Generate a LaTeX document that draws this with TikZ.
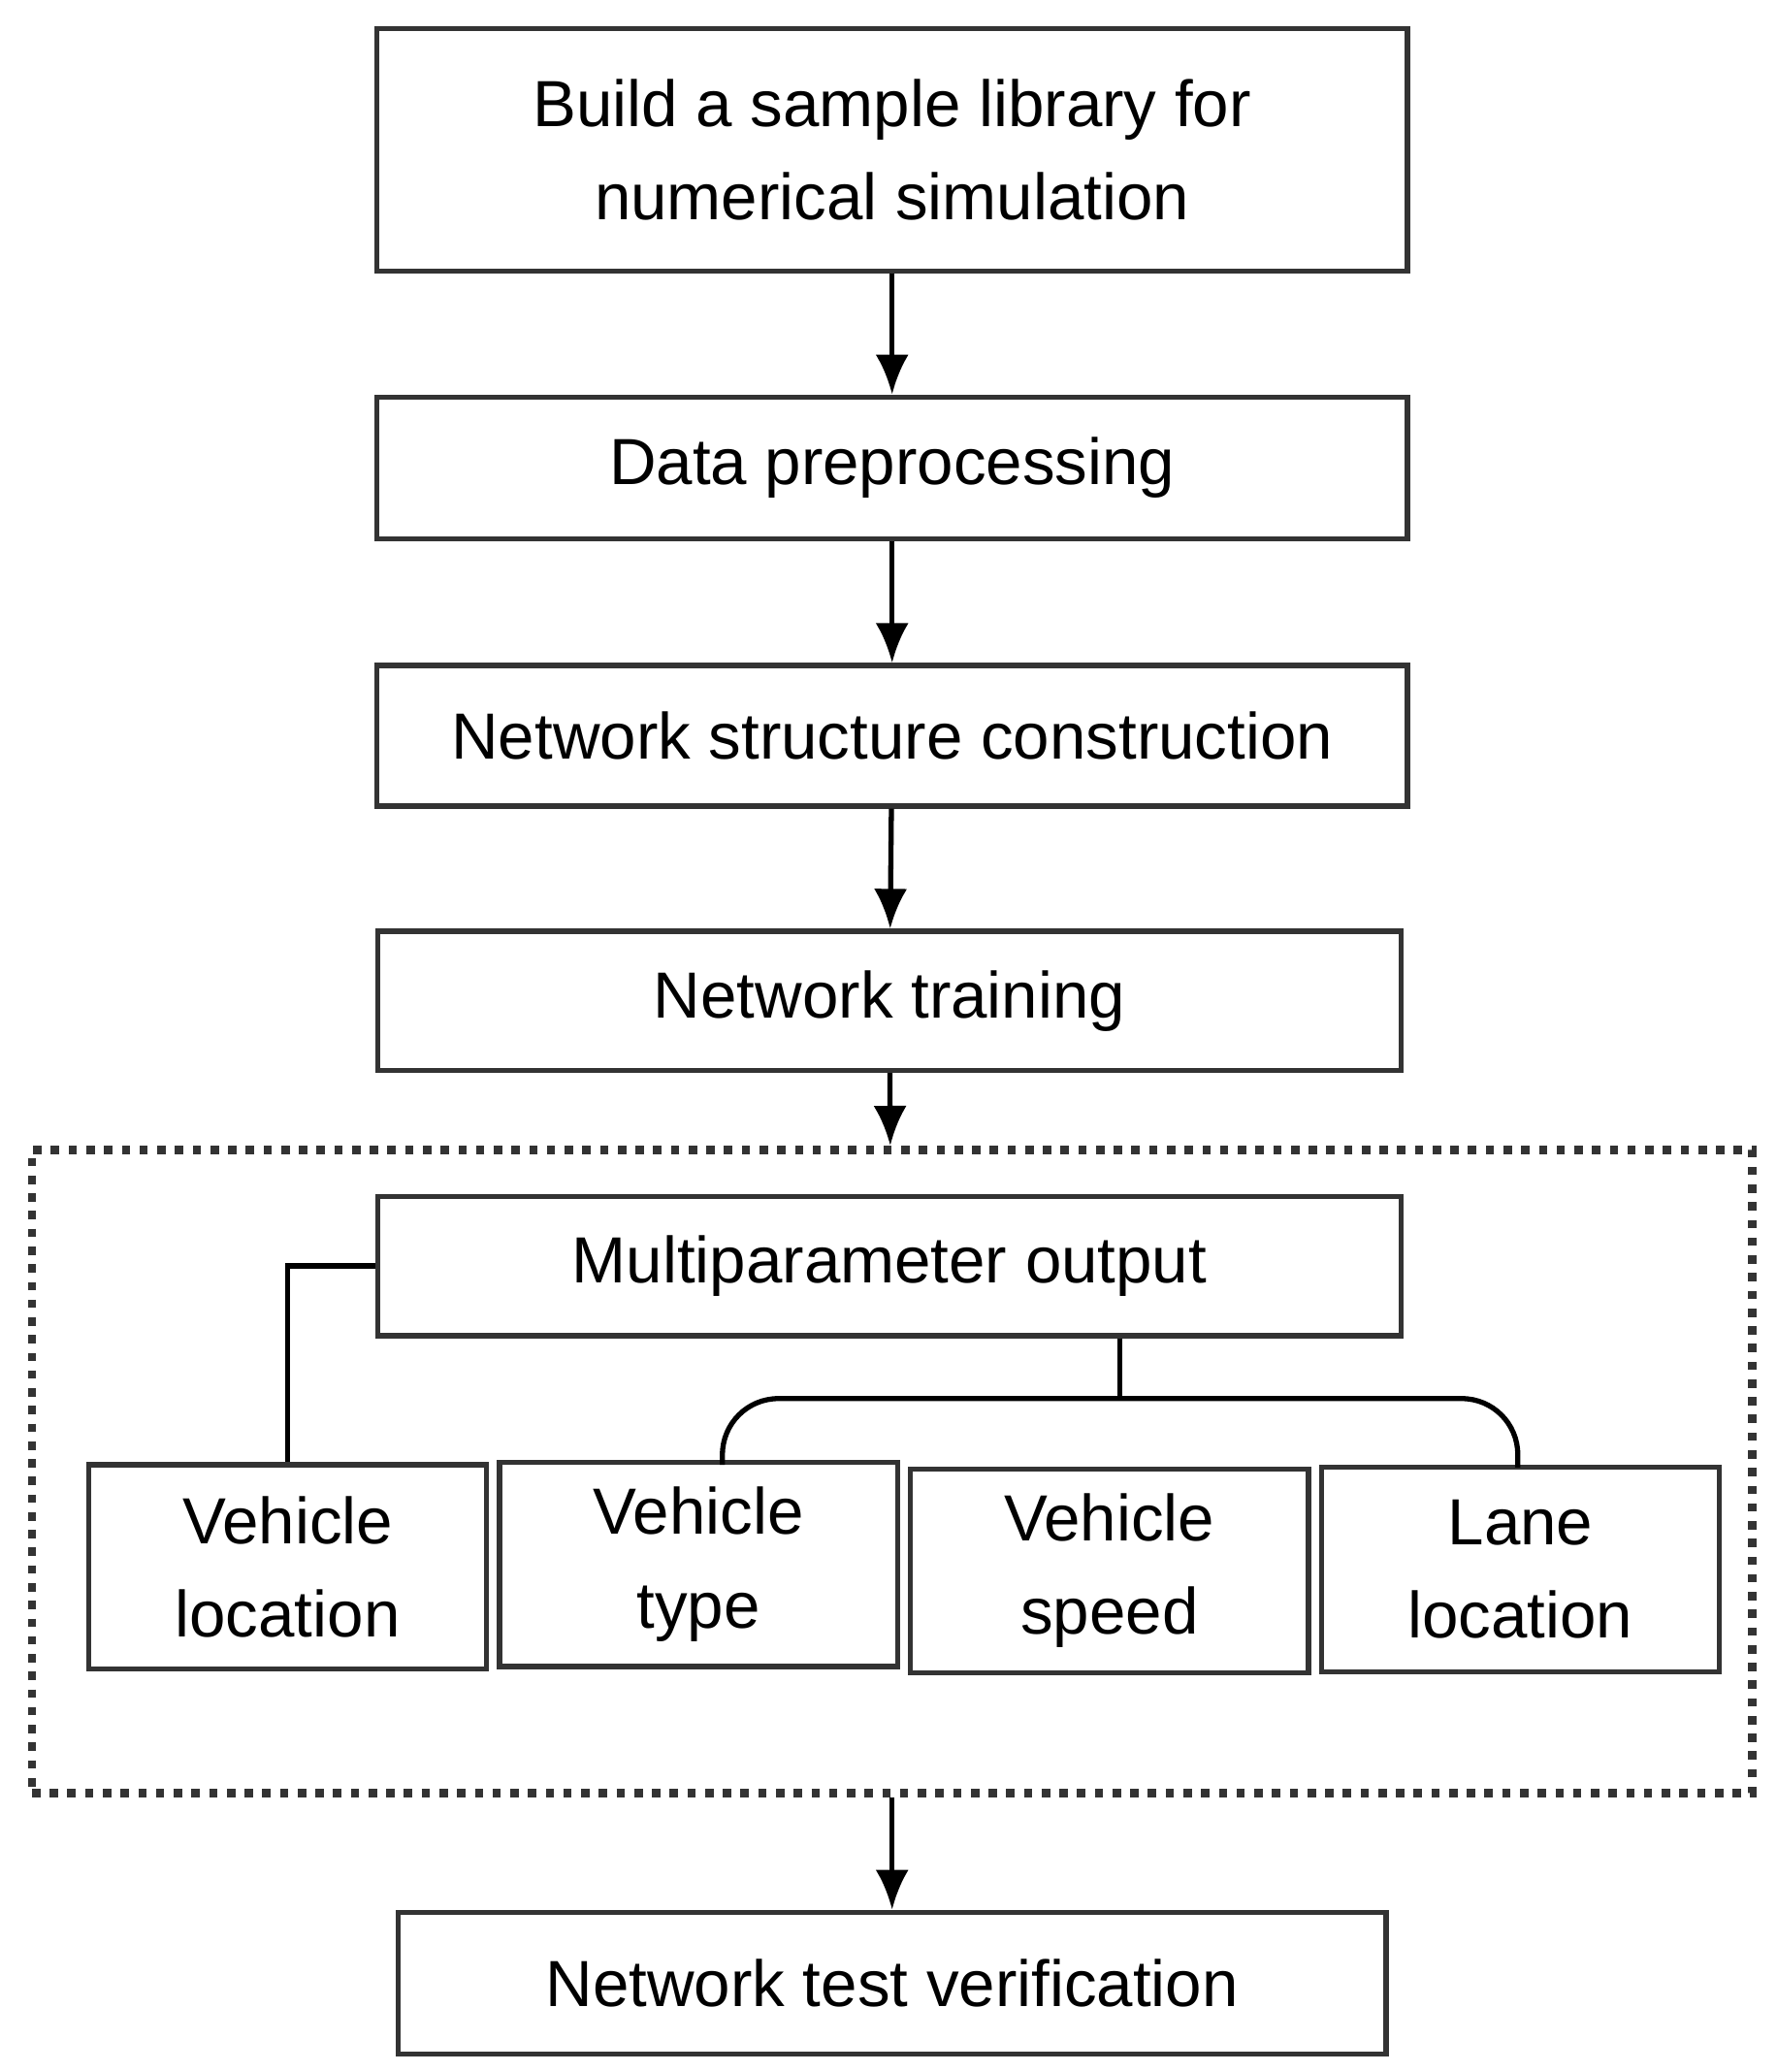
\documentclass[tikz,border=0pt]{standalone}
\usepackage{fontspec}
\setmainfont{Liberation Sans}
\usetikzlibrary{arrows.meta}
\tikzset{>={Latex[width=2.5mm,length=3mm]}}
\begin{document}
\begin{tikzpicture}[x=0.01cm,y=-0.01cm, line width=1.1pt,
  box/.style={draw=black!80, line width=1.1pt, inner sep=0pt, align=center, font=\fontsize{14}{20}\selectfont},
  wide/.style={box, minimum width=7.77cm},
  small/.style={box, minimum width=3cm, minimum height=1.54cm}]
    \useasboundingbox (0,0) rectangle (1340,1563);

    %Nodes
    \node[wide, minimum height=1.83cm](library) at (673,113){Build a sample library for\\numerical simulation};
    \node[wide, minimum height=1.07cm](preproc) at (673,353){Data preprocessing};
    \node[wide, minimum height=1.06cm](structure) at (673,555){Network structure construction};
    \node[box, minimum width=7.72cm, minimum height=1.05cm](training) at (671,755){Network training};
    \node[box, minimum width=7.72cm, minimum height=1.05cm](multi) at (671,955){Multiparameter output};
    \node[small](vloc) at (217,1182){Vehicle\\location};
    \node[small](vtype) at (527,1180){Vehicle\\type};
    \node[small](vspeed) at (837,1185){Vehicle\\speed};
    \node[small](lane) at (1147,1184){Lane\\location};
    \node[box, minimum width=7.45cm, minimum height=1.07cm](test) at (673,1496){Network test verification};
    \node[draw=black!80, line width=1.8pt, dotted, minimum width=12.97cm, minimum height=4.85cm](group) at (673,1110){};
    \coordinate (brace) at (845,1055);
    \coordinate (typetop) at (545,1105);
    \coordinate (lanetop) at (1145,1107);

    %Lines
    \draw[->] (library) -- (preproc);
    \draw[->] (preproc) -- (structure);
    \draw[->] (structure) -- (training);
    \draw[->] (training) -- (group);
    \draw[->] (group) -- (test);
    \draw (multi.west) -| (vloc.north);
    \draw[rounded corners=12pt] (multi.south -| brace) -- (brace);
    \draw[rounded corners=12pt] (typetop) |- (brace) -| (lanetop);
\end{tikzpicture}
\end{document}
